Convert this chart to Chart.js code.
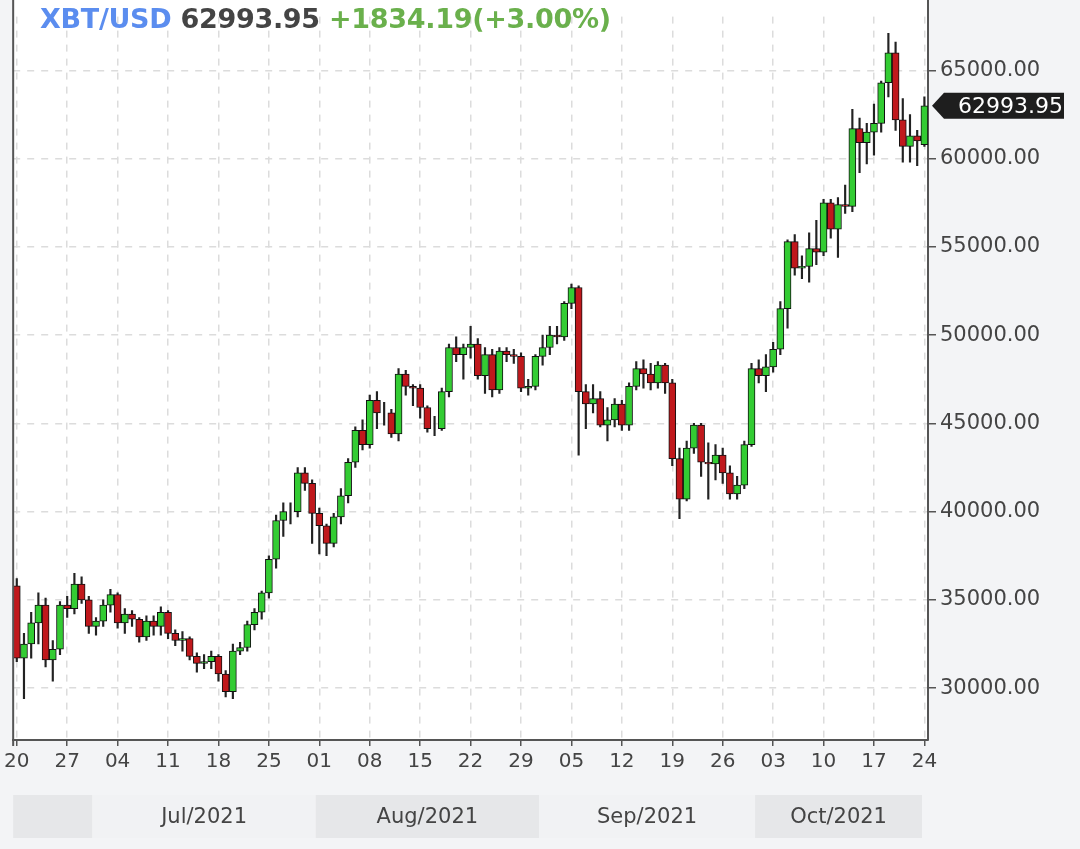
<!DOCTYPE html>
<html><head><meta charset="utf-8">
<script src="https://cdn.jsdelivr.net/npm/chart.js@4/dist/chart.umd.min.js"></script>
<style>
html,body{margin:0;padding:0;background:#f3f4f6;}
#wrap{position:relative;width:1080px;height:849px;}
#title{position:absolute;left:40px;top:3px;font:bold 27px "DejaVu Sans";letter-spacing:-0.3px;white-space:pre;z-index:2}
</style></head><body>
<div id="wrap">
<div id="title"><span style="color:#5b8def">XBT/USD</span> <span style="color:#444">62993.95</span> <span style="color:#6ab04c">+1834.19(+3.00%)</span></div>
<canvas id="c" width="1080" height="849"></canvas>
</div>
<script>
const startDate = "2021-06-20";
const opens = [35800,31700,32500,33700,34700,31600,32200,34700,34500,35900,
35000,33500,33800,34700,35300,33700,34200,33900,32900,33800,
33500,34300,33100,32700,32800,31800,31400,31500,31800,30800,
29800,32100,32300,33600,34300,35400,37300,39500,40000,40000,
42200,41600,39900,39200,38200,39700,40900,42800,44600,43800,
46300,45600,45600,44400,47800,47100,47000,45900,44700,44700,
46800,49300,48900,49300,49500,47700,48900,46900,49100,48900,
48800,47000,47100,48800,49300,50000,49900,51800,52700,46800,
46100,46400,44900,45200,46100,44900,47100,48100,47800,47300,
48300,47300,43000,40700,43600,44900,42800,42700,43200,42200,
41000,41500,43800,48100,47700,48200,49200,51500,55300,53800,
53900,54900,54700,57500,56000,57400,57300,61700,60900,61500,
62000,64300,66000,62200,60700,61300,60800];
const closes = [31700,32500,33700,34700,31600,32200,34700,34500,35900,35000,
33500,33800,34700,35300,33700,34200,33900,32900,33800,33500,
34300,33100,32700,32800,31800,31400,31500,31800,30800,29800,
32100,32300,33600,34300,35400,37300,39500,40000,40000,42200,
41600,39900,39200,38200,39700,40900,42800,44600,43800,46300,
45600,45600,44400,47800,47100,47000,45900,44700,44700,46800,
49300,48900,49300,49500,47700,48900,46900,49100,48900,48800,
47000,47100,48800,49300,50000,49900,51800,52700,46800,46100,
46400,44900,45200,46100,44900,47100,48100,47800,47300,48300,
47300,43000,40700,43600,44900,42800,42700,43200,42200,41000,
41500,43800,48100,47700,48200,49200,51500,55300,53800,53900,
54900,54700,57500,56000,57400,57300,61700,60900,61500,62000,
64300,66000,62200,60700,61300,61000,62993.95];
const highs = [36200,33100,34300,35400,35100,32700,34900,35200,36500,36300,
35200,34000,35000,35600,35400,34500,34400,34000,34100,34100,
34600,34400,33300,33200,32900,32000,31900,32100,31900,31000,
32500,32600,33800,34500,35500,37500,39800,40500,40500,42500,
42500,41800,40200,39300,39900,41300,43000,44800,45200,46600,
46800,46200,45800,48100,48000,47200,47200,46000,45400,47000,
49500,49900,49500,50500,49800,49300,49200,49300,49300,49200,
49000,47500,48900,50000,50500,50500,51900,52900,52800,47200,
47200,46800,45900,46400,46300,47300,48500,48600,48400,48500,
48400,47500,43600,44000,45000,45000,43900,43800,43600,42600,
42000,44000,48400,48600,48900,49600,51900,55400,55700,54500,
55800,56500,57700,57700,57800,58500,62800,62300,62000,63100,
64400,67100,66600,63400,62500,61600,63500];
const lows = [31500,29400,31700,32500,31200,30400,31900,34000,34200,34800,
33100,33000,33500,34300,33400,33100,33500,32600,32700,33000,
33000,32800,32400,32100,31600,30900,31100,31100,30400,29500,
29400,31900,32100,33300,33900,35100,36800,38600,39300,39700,
41200,38200,37600,37500,38000,39300,40500,42500,43500,43600,
44700,44900,44200,44000,46600,46000,45300,44500,44300,44600,
46500,48500,47500,48700,47500,46700,46500,46700,48500,48400,
46800,46600,46900,48300,48900,49500,49700,51500,43200,44700,
45600,44800,44000,44800,44600,44600,46900,47000,46900,47000,
46700,42600,39600,40600,43300,42000,40700,41800,41600,40700,
40700,41300,43700,47300,46800,47900,48900,50400,53400,53200,
53000,54000,54500,55500,54400,56900,57000,59200,59700,60200,
61500,63500,61600,59800,59800,59600,60700];
const yTicks = [30000,35000,40000,45000,50000,55000,60000,65000];
const months = [{label:"Jul/2021",start:"2021-07-01"},{label:"Aug/2021",start:"2021-08-01"},{label:"Sep/2021",start:"2021-09-01"},{label:"Oct/2021",start:"2021-10-01"}];
const lastPrice = "62993.95";

const d0 = new Date(startDate+"T00:00:00Z");
const dates = opens.map((_,i)=>new Date(d0.getTime()+i*86400000));
const labels = dates.map(d=>String(d.getUTCDate()).padStart(2,"0"));
const isTick = i => i%7===0;
const idxOf = s => Math.round((new Date(s+"T00:00:00Z")-d0)/86400000);

const bgPlugin = {
  id:'bg',
  beforeDraw(ch){
    const {ctx,chartArea:a}=ch;
    ctx.save();ctx.fillStyle='#fff';ctx.fillRect(a.left,0,a.right-a.left,a.bottom);ctx.restore();
  },
  afterDraw(ch){
    const {ctx,chartArea:a,scales:{x,y}}=ch;
    const step=(a.right-a.left)/opens.length;
    ctx.save();
    ctx.strokeStyle='#555';ctx.lineWidth=2;
    ctx.beginPath();ctx.moveTo(a.left,0);ctx.lineTo(a.left,a.bottom+6);ctx.moveTo(a.right,0);ctx.lineTo(a.right,a.top+1);ctx.stroke();
    const top=795,h=43, end=922;
    const bounds=[a.left,...months.map(m=>a.left+idxOf(m.start)*step),end];
    for(let i=0;i<bounds.length-1;i++){
      ctx.fillStyle = i%2===0 ? '#e6e7e9' : '#f1f2f4';
      ctx.fillRect(bounds[i],top,bounds[i+1]-bounds[i],h);
      if(i>0){
        ctx.fillStyle='#444';ctx.font='21px "DejaVu Sans"';ctx.textAlign='center';ctx.textBaseline='middle';
        ctx.fillText(months[i-1].label,(bounds[i]+bounds[i+1])/2,top+h/2+1);
      }
    }
    const py=y.getPixelForValue(closes[closes.length-1]);
    const x0=a.right+4;
    ctx.fillStyle='#1e1e1e';
    ctx.beginPath();ctx.moveTo(x0,py);ctx.lineTo(x0+12,py-13);ctx.lineTo(1064,py-13);ctx.lineTo(1064,py+13);ctx.lineTo(x0+12,py+13);ctx.closePath();ctx.fill();
    ctx.fillStyle='#fff';ctx.font='22px "DejaVu Sans"';ctx.textAlign='right';ctx.textBaseline='middle';
    ctx.fillText(lastPrice,1063,py+1);
    ctx.restore();
  }
};

new Chart(document.getElementById('c'),{
  type:'bar',
  data:{labels,datasets:[
    {data:opens.map((o,i)=>[lows[i],highs[i]]),backgroundColor:'#222',barThickness:1.5,order:2,grouped:false},
    {data:opens.map((o,i)=>[o,closes[i]]),backgroundColor:opens.map((o,i)=>closes[i]>=o?'#33cc33':'#c0181c'),
     borderColor:'#111',borderWidth:1,borderSkipped:false,barThickness:7,order:1,grouped:false}
  ]},
  plugins:[bgPlugin],
  options:{
    responsive:false,animation:false,
    layout:{padding:{left:12,top:0,right:0,bottom:0}},
    plugins:{legend:{display:false},tooltip:{enabled:false}},
    scales:{
      x:{offset:true,
        grid:{offset:false,color:(c)=>isTick(c.index)?'#dcdcdc':'rgba(0,0,0,0)',lineWidth:1.5,
              tickColor:(c)=>isTick(c.index)?'#555':'rgba(0,0,0,0)',tickLength:6},
        border:{display:true,color:'#555',width:2,dash:[7,7]},
        ticks:{autoSkip:false,maxRotation:0,padding:4,color:'#444',font:{family:'DejaVu Sans',size:20},
               callback:(v,i)=>isTick(i)?labels[i]:''},
        afterFit(s){s.height=109;}
      },
      y:{position:'right',min:27060,max:68050,
        afterBuildTicks(s){s.ticks=yTicks.map(v=>({value:v}));},
        grid:{color:'#dcdcdc',lineWidth:1.5,tickColor:'#555',tickLength:8},
        border:{display:true,color:'#555',width:2,dash:[7,7]},
        ticks:{color:'#444',padding:4,font:{family:'DejaVu Sans',size:21},callback:v=>v.toFixed(2)},
        afterFit(s){s.width=152;}
      }
    }
  }
});
</script>
</body></html>
